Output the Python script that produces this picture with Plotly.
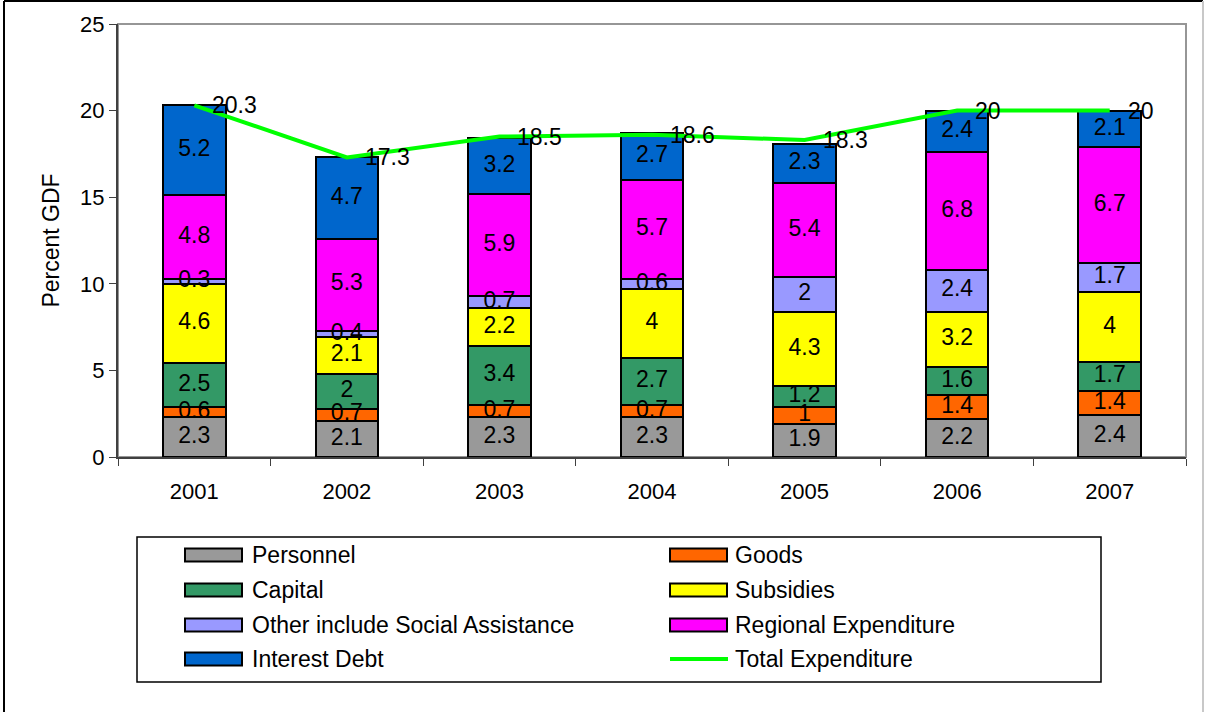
import plotly.graph_objects as go

# Government expenditure components, percent of GDP
years = ["2001", "2002", "2003", "2004", "2005", "2006", "2007"]
personnel = [2.3, 2.1, 2.3, 2.3, 1.9, 2.2, 2.4]
goods = [0.6, 0.7, 0.7, 0.7, 1.0, 1.4, 1.4]
capital = [2.5, 2.0, 3.4, 2.7, 1.2, 1.6, 1.7]
subsidies = [4.6, 2.1, 2.2, 4.0, 4.3, 3.2, 4.0]
other_social = [0.3, 0.4, 0.7, 0.6, 2.0, 2.4, 1.7]
regional = [4.8, 5.3, 5.9, 5.7, 5.4, 6.8, 6.7]
interest_debt = [5.2, 4.7, 3.2, 2.7, 2.3, 2.4, 2.1]
total_expenditure = [20.3, 17.3, 18.5, 18.6, 18.3, 20.0, 20.0]

series_names = ["Personnel", "Goods", "Capital", "Subsidies",
                "Other include Social Assistance", "Regional Expenditure",
                "Interest Debt"]
series_values = [personnel, goods, capital, subsidies, other_social,
                 regional, interest_debt]
series_colors = ["#999999", "#FF6600", "#339966", "#FFFF00", "#9999FF",
                 "#FF00FF", "#0066CC"]
total_name = "Total Expenditure"
total_color = "#00FF00"

FONT = "Liberation Sans, Arial, sans-serif"

# figure geometry (pixels)
W, H = 1205, 712
ML, MR, MT, MB = 118, 19, 24, 255
PW, PH = W - ML - MR, H - MT - MB


def px(x):
    return (x - ML) / PW


def py(y):
    return (H - MB - y) / PH


fig = go.Figure()

# stacked bars
for name, vals, col in zip(series_names, series_values, series_colors):
    fig.add_trace(go.Bar(
        x=years, y=vals, name=name,
        marker=dict(color=col, line=dict(color="#000000", width=2)),
        showlegend=False, hoverinfo="x+y+name",
    ))

# value labels centred in each segment
base = [0.0] * len(years)
for vals in series_values:
    mids = [b + v / 2 for b, v in zip(base, vals)]
    fig.add_trace(go.Scatter(
        x=years, y=mids, mode="text",
        text=[f"{v:g}" for v in vals],
        textfont=dict(family=FONT, size=23, color="#000000"),
        showlegend=False, hoverinfo="skip",
    ))
    base = [b + v for b, v in zip(base, vals)]

# total expenditure line
fig.add_trace(go.Scatter(
    x=years, y=total_expenditure, mode="lines", name=total_name,
    line=dict(color=total_color, width=4), showlegend=False,
))
# labels to the right of each line point (category index positions)
for idx, tv in enumerate(total_expenditure):
    fig.add_annotation(
        x=idx, y=tv, xref="x", yref="y", text=f"{tv:g}", showarrow=False,
        xanchor="left", yanchor="middle", xshift=16,
        font=dict(family=FONT, size=23, color="#000000"),
    )

shapes = []
# plot-area frame (grey top/right)
shapes.append(dict(type="rect", xref="paper", yref="paper", x0=0, y0=0,
                   x1=1, y1=1, line=dict(color="#969696", width=2),
                   layer="below"))
# outer frame
shapes.append(dict(type="line", xref="paper", yref="paper",
                   x0=px(4), y0=py(1), x1=px(4), y1=py(712),
                   line=dict(color="#000000", width=2)))
shapes.append(dict(type="line", xref="paper", yref="paper",
                   x0=px(4), y0=py(1), x1=px(1203), y1=py(1),
                   line=dict(color="#000000", width=2)))
shapes.append(dict(type="line", xref="paper", yref="paper",
                   x0=px(1203), y0=py(1), x1=px(1203), y1=py(712),
                   line=dict(color="#C8C8C8", width=2)))

# legend box
shapes.append(dict(type="rect", xref="paper", yref="paper",
                   x0=px(137), y0=py(537), x1=px(1101), y1=py(682),
                   line=dict(color="#000000", width=1.5),
                   fillcolor="#FFFFFF"))

legend_names = series_names + [total_name]
legend_colors = series_colors + [total_color]
col_sw = [185, 670]
col_tx = [250, 733]
row_y = [555, 590, 625, 659]
for i, (nm, col) in enumerate(zip(legend_names, legend_colors)):
    c, r = i % 2, i // 2
    yc = row_y[r]
    if nm == total_name:
        shapes.append(dict(type="line", xref="paper", yref="paper",
                           x0=px(col_sw[c]), x1=px(col_sw[c] + 58),
                           y0=py(yc), y1=py(yc),
                           line=dict(color=col, width=4)))
    else:
        shapes.append(dict(type="rect", xref="paper", yref="paper",
                           x0=px(col_sw[c]), x1=px(col_sw[c] + 57),
                           y0=py(yc - 6.5), y1=py(yc + 6.5),
                           fillcolor=col,
                           line=dict(color="#000000", width=2)))
    fig.add_annotation(
        xref="paper", yref="paper", x=px(col_tx[c]), y=py(yc),
        text=nm, showarrow=False, xanchor="left", yanchor="middle",
        font=dict(family=FONT, size=23, color="#000000"),
    )

fig.update_layout(
    width=W, height=H,
    margin=dict(l=ML, r=MR, t=MT, b=MB, pad=0),
    paper_bgcolor="#FFFFFF", plot_bgcolor="#FFFFFF",
    barmode="stack", bargap=0.59,
    font=dict(family=FONT, size=22, color="#000000"),
    shapes=shapes,
    showlegend=False,
)
fig.update_xaxes(
    type="category", tickson="boundaries",
    range=[-0.5, len(years) - 0.5],
    showline=True, linecolor="#404040", linewidth=2,
    ticks="outside", ticklen=7, tickcolor="#404040", tickwidth=1,
    showgrid=False, zeroline=False,
    tickfont=dict(family=FONT, size=22, color="#000000"),
    ticklabelstandoff=14,
)
fig.update_yaxes(
    range=[0, 25], dtick=5, tick0=0,
    showline=True, linecolor="#404040", linewidth=2,
    ticks="outside", ticklen=7, tickcolor="#404040", tickwidth=1,
    showgrid=False, zeroline=False,
    tickfont=dict(family=FONT, size=22, color="#000000"),
    title=dict(text="Percent GDF", standoff=14,
               font=dict(family=FONT, size=23, color="#000000")),
)

fig.write_html("out.html")
